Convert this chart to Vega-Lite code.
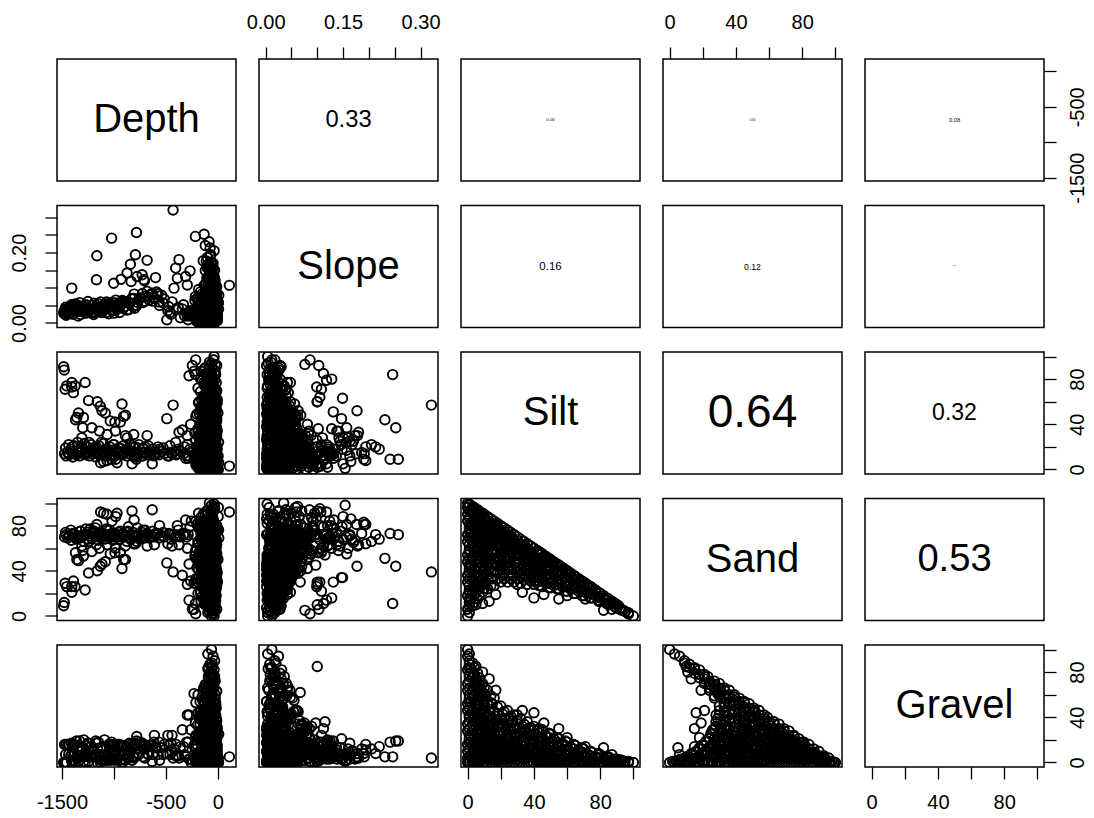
{
  "$schema": "https://vega.github.io/schema/vega-lite/v6.json",
  "background": "white",
  "padding": {"left": 8, "top": 11, "right": 5, "bottom": 5},
  "columns": 5,
  "spacing": {"row": 24.5, "column": 23},
  "bounds": "flush",
  "datasets": {
    "cors": [
      {"pair": "Depth~Slope", "r": 0.33},
      {"pair": "Depth~Silt", "r": 0.06},
      {"pair": "Depth~Sand", "r": 0.04},
      {"pair": "Depth~Gravel", "r": 0.08},
      {"pair": "Slope~Silt", "r": 0.16},
      {"pair": "Slope~Sand", "r": 0.12},
      {"pair": "Slope~Gravel", "r": 0.02},
      {"pair": "Silt~Sand", "r": 0.64},
      {"pair": "Silt~Gravel", "r": 0.32},
      {"pair": "Sand~Gravel", "r": 0.53}
    ],
    "samples": [
      {"Depth":-1484,"Slope":0.030,"Silt":91,"Sand":9,"Gravel":0},
      {"Depth":-1478,"Slope":0.026,"Silt":88,"Sand":12,"Gravel":0},
      {"Depth":-1470,"Slope":0.040,"Silt":71,"Sand":29,"Gravel":0},
      {"Depth":-1454,"Slope":0.035,"Silt":74,"Sand":26,"Gravel":0},
      {"Depth":-1374,"Slope":0.036,"Silt":74,"Sand":26,"Gravel":0},
      {"Depth":-1406,"Slope":0.099,"Silt":73,"Sand":26,"Gravel":1},
      {"Depth":-1405,"Slope":0.048,"Silt":77,"Sand":21,"Gravel":2},
      {"Depth":-1277,"Slope":0.042,"Silt":77,"Sand":23,"Gravel":0},
      {"Depth":-1390,"Slope":0.044,"Silt":68,"Sand":31,"Gravel":1},
      {"Depth":-1244,"Slope":0.033,"Silt":61,"Sand":38,"Gravel":1},
      {"Depth":-1160,"Slope":0.039,"Silt":60,"Sand":40,"Gravel":0},
      {"Depth":-1131,"Slope":0.047,"Silt":56,"Sand":44,"Gravel":0},
      {"Depth":-1115,"Slope":0.030,"Silt":52,"Sand":46,"Gravel":2},
      {"Depth":-1370,"Slope":0.054,"Silt":44,"Sand":56,"Gravel":0},
      {"Depth":-1357,"Slope":0.046,"Silt":46,"Sand":50,"Gravel":4},
      {"Depth":-1341,"Slope":0.050,"Silt":50,"Sand":49,"Gravel":1},
      {"Depth":-1293,"Slope":0.041,"Silt":46,"Sand":53,"Gravel":1},
      {"Depth":-1083,"Slope":0.044,"Silt":50,"Sand":48,"Gravel":2},
      {"Depth":-1035,"Slope":0.053,"Silt":43,"Sand":55,"Gravel":2},
      {"Depth":-990,"Slope":0.048,"Silt":42,"Sand":56,"Gravel":2},
      {"Depth":-922,"Slope":0.056,"Silt":58,"Sand":42,"Gravel":0},
      {"Depth":-906,"Slope":0.062,"Silt":47,"Sand":50,"Gravel":3},
      {"Depth":-938,"Slope":0.050,"Silt":42,"Sand":56,"Gravel":2},
      {"Depth":-889,"Slope":0.058,"Silt":48,"Sand":50,"Gravel":2},
      {"Depth":-490,"Slope":0.009,"Silt":45,"Sand":47,"Gravel":8},
      {"Depth":-430,"Slope":0.321,"Silt":57,"Sand":39,"Gravel":4},
      {"Depth":-1300,"Slope":0.035,"Silt":37,"Sand":58,"Gravel":5},
      {"Depth":-1309,"Slope":0.045,"Silt":28,"Sand":62,"Gravel":10},
      {"Depth":-1212,"Slope":0.030,"Silt":37,"Sand":57,"Gravel":6},
      {"Depth":-1140,"Slope":0.040,"Silt":34,"Sand":60,"Gravel":6},
      {"Depth":-1065,"Slope":0.055,"Silt":31,"Sand":63,"Gravel":6},
      {"Depth":-986,"Slope":0.050,"Silt":34,"Sand":60,"Gravel":6},
      {"Depth":-890,"Slope":0.060,"Silt":30,"Sand":62,"Gravel":8},
      {"Depth":-809,"Slope":0.070,"Silt":31,"Sand":64,"Gravel":5},
      {"Depth":-1240,"Slope":0.037,"Silt":24,"Sand":66,"Gravel":10},
      {"Depth":-1128,"Slope":0.060,"Silt":6,"Sand":92,"Gravel":2},
      {"Depth":-1099,"Slope":0.050,"Silt":7,"Sand":91,"Gravel":2},
      {"Depth":-1067,"Slope":0.045,"Silt":8,"Sand":90,"Gravel":2},
      {"Depth":-982,"Slope":0.065,"Silt":9,"Sand":88,"Gravel":3},
      {"Depth":-970,"Slope":0.040,"Silt":6,"Sand":91,"Gravel":3},
      {"Depth":-1018,"Slope":0.058,"Silt":12,"Sand":84,"Gravel":4},
      {"Depth":-825,"Slope":0.070,"Silt":5,"Sand":93,"Gravel":2},
      {"Depth":-805,"Slope":0.082,"Silt":11,"Sand":85,"Gravel":4},
      {"Depth":-631,"Slope":0.085,"Silt":5,"Sand":94,"Gravel":1},
      {"Depth":-1325,"Slope":0.040,"Silt":15,"Sand":75,"Gravel":10},
      {"Depth":-1272,"Slope":0.052,"Silt":14,"Sand":77,"Gravel":9},
      {"Depth":-1228,"Slope":0.036,"Silt":16,"Sand":77,"Gravel":7},
      {"Depth":-1180,"Slope":0.030,"Silt":17,"Sand":78,"Gravel":5},
      {"Depth":-1060,"Slope":0.045,"Silt":18,"Sand":76,"Gravel":6},
      {"Depth":-940,"Slope":0.055,"Silt":19,"Sand":75,"Gravel":6},
      {"Depth":-860,"Slope":0.038,"Silt":17,"Sand":79,"Gravel":4},
      {"Depth":-700,"Slope":0.062,"Silt":20,"Sand":76,"Gravel":4},
      {"Depth":-560,"Slope":0.050,"Silt":18,"Sand":80,"Gravel":2},
      {"Depth":-1400,"Slope":0.031,"Silt":20,"Sand":72,"Gravel":8},
      {"Depth":-1000,"Slope":0.028,"Silt":22,"Sand":70,"Gravel":8},
      {"Depth":-1120,"Slope":0.048,"Silt":24,"Sand":69,"Gravel":7},
      {"Depth":-1465,"Slope":0.045,"Silt":19,"Sand":74,"Gravel":7},
      {"Depth":-1435,"Slope":0.027,"Silt":22,"Sand":71,"Gravel":7},
      {"Depth":-1415,"Slope":0.038,"Silt":18,"Sand":76,"Gravel":6},
      {"Depth":-1385,"Slope":0.051,"Silt":21,"Sand":73,"Gravel":6},
      {"Depth":-1350,"Slope":0.033,"Silt":24,"Sand":70,"Gravel":6},
      {"Depth":-1320,"Slope":0.024,"Silt":19,"Sand":75,"Gravel":6},
      {"Depth":-1285,"Slope":0.047,"Silt":23,"Sand":72,"Gravel":5},
      {"Depth":-1255,"Slope":0.039,"Silt":20,"Sand":74,"Gravel":6},
      {"Depth":-1220,"Slope":0.029,"Silt":22,"Sand":73,"Gravel":5},
      {"Depth":-1190,"Slope":0.056,"Silt":19,"Sand":75,"Gravel":6},
      {"Depth":-1145,"Slope":0.034,"Silt":21,"Sand":72,"Gravel":7},
      {"Depth":-1100,"Slope":0.043,"Silt":23,"Sand":71,"Gravel":6},
      {"Depth":-1075,"Slope":0.030,"Silt":18,"Sand":77,"Gravel":5},
      {"Depth":-1040,"Slope":0.052,"Silt":20,"Sand":76,"Gravel":4},
      {"Depth":-1005,"Slope":0.036,"Silt":22,"Sand":72,"Gravel":6},
      {"Depth":-955,"Slope":0.048,"Silt":19,"Sand":74,"Gravel":7},
      {"Depth":-910,"Slope":0.041,"Silt":21,"Sand":73,"Gravel":6},
      {"Depth":-865,"Slope":0.059,"Silt":18,"Sand":75,"Gravel":7},
      {"Depth":-815,"Slope":0.046,"Silt":20,"Sand":74,"Gravel":6},
      {"Depth":-760,"Slope":0.066,"Silt":22,"Sand":71,"Gravel":7},
      {"Depth":-720,"Slope":0.058,"Silt":19,"Sand":76,"Gravel":5},
      {"Depth":-670,"Slope":0.074,"Silt":21,"Sand":72,"Gravel":7},
      {"Depth":-625,"Slope":0.062,"Silt":18,"Sand":75,"Gravel":7},
      {"Depth":-575,"Slope":0.083,"Silt":20,"Sand":73,"Gravel":7},
      {"Depth":-525,"Slope":0.057,"Silt":19,"Sand":74,"Gravel":7},
      {"Depth":-460,"Slope":0.030,"Silt":21,"Sand":72,"Gravel":7},
      {"Depth":-380,"Slope":0.044,"Silt":18,"Sand":76,"Gravel":6},
      {"Depth":-320,"Slope":0.021,"Silt":20,"Sand":73,"Gravel":7},
      {"Depth":-1475,"Slope":0.034,"Silt":14,"Sand":70,"Gravel":16},
      {"Depth":-1460,"Slope":0.022,"Silt":12,"Sand":72,"Gravel":16},
      {"Depth":-1445,"Slope":0.041,"Silt":15,"Sand":69,"Gravel":16},
      {"Depth":-1430,"Slope":0.030,"Silt":13,"Sand":71,"Gravel":16},
      {"Depth":-1410,"Slope":0.052,"Silt":16,"Sand":67,"Gravel":17},
      {"Depth":-1395,"Slope":0.025,"Silt":11,"Sand":73,"Gravel":16},
      {"Depth":-1380,"Slope":0.038,"Silt":14,"Sand":70,"Gravel":16},
      {"Depth":-1360,"Slope":0.047,"Silt":13,"Sand":68,"Gravel":19},
      {"Depth":-1345,"Slope":0.020,"Silt":15,"Sand":71,"Gravel":14},
      {"Depth":-1330,"Slope":0.058,"Silt":12,"Sand":69,"Gravel":19},
      {"Depth":-1310,"Slope":0.033,"Silt":16,"Sand":70,"Gravel":14},
      {"Depth":-1290,"Slope":0.044,"Silt":14,"Sand":66,"Gravel":20},
      {"Depth":-1270,"Slope":0.028,"Silt":13,"Sand":72,"Gravel":15},
      {"Depth":-1250,"Slope":0.061,"Silt":15,"Sand":68,"Gravel":17},
      {"Depth":-1235,"Slope":0.036,"Silt":12,"Sand":71,"Gravel":17},
      {"Depth":-1215,"Slope":0.050,"Silt":17,"Sand":69,"Gravel":14},
      {"Depth":-1195,"Slope":0.024,"Silt":14,"Sand":73,"Gravel":13},
      {"Depth":-1175,"Slope":0.042,"Silt":11,"Sand":70,"Gravel":19},
      {"Depth":-1150,"Slope":0.055,"Silt":15,"Sand":67,"Gravel":18},
      {"Depth":-1130,"Slope":0.031,"Silt":13,"Sand":74,"Gravel":13},
      {"Depth":-1110,"Slope":0.047,"Silt":16,"Sand":70,"Gravel":14},
      {"Depth":-1090,"Slope":0.038,"Silt":12,"Sand":68,"Gravel":20},
      {"Depth":-1070,"Slope":0.060,"Silt":14,"Sand":72,"Gravel":14},
      {"Depth":-1050,"Slope":0.026,"Silt":15,"Sand":69,"Gravel":16},
      {"Depth":-1030,"Slope":0.049,"Silt":13,"Sand":71,"Gravel":16},
      {"Depth":-1010,"Slope":0.035,"Silt":17,"Sand":67,"Gravel":16},
      {"Depth":-990,"Slope":0.057,"Silt":12,"Sand":73,"Gravel":15},
      {"Depth":-965,"Slope":0.043,"Silt":14,"Sand":70,"Gravel":16},
      {"Depth":-945,"Slope":0.030,"Silt":16,"Sand":68,"Gravel":16},
      {"Depth":-920,"Slope":0.064,"Silt":13,"Sand":72,"Gravel":15},
      {"Depth":-900,"Slope":0.046,"Silt":15,"Sand":70,"Gravel":15},
      {"Depth":-875,"Slope":0.037,"Silt":12,"Sand":74,"Gravel":14},
      {"Depth":-850,"Slope":0.055,"Silt":14,"Sand":69,"Gravel":17},
      {"Depth":-825,"Slope":0.068,"Silt":16,"Sand":71,"Gravel":13},
      {"Depth":-800,"Slope":0.042,"Silt":13,"Sand":70,"Gravel":17},
      {"Depth":-775,"Slope":0.059,"Silt":15,"Sand":72,"Gravel":13},
      {"Depth":-750,"Slope":0.071,"Silt":14,"Sand":68,"Gravel":18},
      {"Depth":-725,"Slope":0.084,"Silt":12,"Sand":71,"Gravel":17},
      {"Depth":-700,"Slope":0.076,"Silt":15,"Sand":70,"Gravel":15},
      {"Depth":-680,"Slope":0.090,"Silt":13,"Sand":73,"Gravel":14},
      {"Depth":-660,"Slope":0.065,"Silt":16,"Sand":69,"Gravel":15},
      {"Depth":-640,"Slope":0.081,"Silt":14,"Sand":71,"Gravel":15},
      {"Depth":-615,"Slope":0.072,"Silt":12,"Sand":70,"Gravel":18},
      {"Depth":-590,"Slope":0.088,"Silt":15,"Sand":72,"Gravel":13},
      {"Depth":-565,"Slope":0.060,"Silt":13,"Sand":69,"Gravel":18},
      {"Depth":-540,"Slope":0.079,"Silt":16,"Sand":71,"Gravel":13},
      {"Depth":-515,"Slope":0.068,"Silt":14,"Sand":70,"Gravel":16},
      {"Depth":-470,"Slope":0.046,"Silt":12,"Sand":73,"Gravel":15},
      {"Depth":-450,"Slope":0.025,"Silt":15,"Sand":68,"Gravel":17},
      {"Depth":-400,"Slope":0.038,"Silt":13,"Sand":71,"Gravel":16},
      {"Depth":-360,"Slope":0.015,"Silt":16,"Sand":70,"Gravel":14},
      {"Depth":-330,"Slope":0.052,"Silt":14,"Sand":72,"Gravel":14},
      {"Depth":-300,"Slope":0.028,"Silt":12,"Sand":70,"Gravel":18},
      {"Depth":-285,"Slope":0.009,"Silt":10,"Sand":72,"Gravel":18},
      {"Depth":-780,"Slope":0.050,"Silt":11,"Sand":66,"Gravel":23},
      {"Depth":-610,"Slope":0.070,"Silt":13,"Sand":63,"Gravel":24},
      {"Depth":-480,"Slope":0.035,"Silt":12,"Sand":64,"Gravel":24},
      {"Depth":-440,"Slope":0.060,"Silt":14,"Sand":62,"Gravel":24},
      {"Depth":-1164,"Slope":0.191,"Silt":14,"Sand":81,"Gravel":5},
      {"Depth":-1168,"Slope":0.123,"Silt":20,"Sand":63,"Gravel":17},
      {"Depth":-1002,"Slope":0.113,"Silt":12,"Sand":72,"Gravel":16},
      {"Depth":-1022,"Slope":0.241,"Silt":9,"Sand":73,"Gravel":18},
      {"Depth":-931,"Slope":0.124,"Silt":15,"Sand":70,"Gravel":15},
      {"Depth":-873,"Slope":0.142,"Silt":28,"Sand":66,"Gravel":6},
      {"Depth":-834,"Slope":0.118,"Silt":16,"Sand":68,"Gravel":16},
      {"Depth":-783,"Slope":0.257,"Silt":9,"Sand":72,"Gravel":19},
      {"Depth":-793,"Slope":0.194,"Silt":20,"Sand":64,"Gravel":16},
      {"Depth":-841,"Slope":0.167,"Silt":22,"Sand":68,"Gravel":10},
      {"Depth":-777,"Slope":0.132,"Silt":14,"Sand":78,"Gravel":8},
      {"Depth":-728,"Slope":0.137,"Silt":12,"Sand":74,"Gravel":14},
      {"Depth":-712,"Slope":0.123,"Silt":18,"Sand":70,"Gravel":12},
      {"Depth":-706,"Slope":0.120,"Silt":15,"Sand":69,"Gravel":16},
      {"Depth":-680,"Slope":0.178,"Silt":30,"Sand":62,"Gravel":8},
      {"Depth":-599,"Slope":0.129,"Silt":13,"Sand":73,"Gravel":14},
      {"Depth":-373,"Slope":0.180,"Silt":33,"Sand":63,"Gravel":4},
      {"Depth":-405,"Slope":0.156,"Silt":24,"Sand":70,"Gravel":6},
      {"Depth":-421,"Slope":0.099,"Silt":16,"Sand":72,"Gravel":12},
      {"Depth":-389,"Slope":0.127,"Silt":14,"Sand":80,"Gravel":6},
      {"Depth":-309,"Slope":0.132,"Silt":10,"Sand":85,"Gravel":5},
      {"Depth":-293,"Slope":0.108,"Silt":22,"Sand":60,"Gravel":18},
      {"Depth":-267,"Slope":0.148,"Silt":18,"Sand":79,"Gravel":3},
      {"Depth":-215,"Slope":0.246,"Silt":84,"Sand":11,"Gravel":5},
      {"Depth":-131,"Slope":0.252,"Silt":37,"Sand":44,"Gravel":19},
      {"Depth":-83,"Slope":0.231,"Silt":44,"Sand":51,"Gravel":5},
      {"Depth":-73,"Slope":0.213,"Silt":20,"Sand":72,"Gravel":8},
      {"Depth":-67,"Slope":0.194,"Silt":8,"Sand":81,"Gravel":11},
      {"Depth":-276,"Slope":0.022,"Silt":83,"Sand":14,"Gravel":3},
      {"Depth":-212,"Slope":0.012,"Silt":97,"Sand":2,"Gravel":1},
      {"Depth":-228,"Slope":0.018,"Silt":87,"Sand":6,"Gravel":7},
      {"Depth":-260,"Slope":0.035,"Silt":40,"Sand":31,"Gravel":29},
      {"Depth":-293,"Slope":0.020,"Silt":30,"Sand":28,"Gravel":42},
      {"Depth":-244,"Slope":0.028,"Silt":92,"Sand":6,"Gravel":2},
      {"Depth":-341,"Slope":0.040,"Silt":35,"Sand":36,"Gravel":29},
      {"Depth":-276,"Slope":0.032,"Silt":12,"Sand":46,"Gravel":42},
      {"Depth":-228,"Slope":0.026,"Silt":10,"Sand":29,"Gravel":61},
      {"Depth":112,"Slope":0.107,"Silt":3,"Sand":92,"Gravel":5},
      {"Depth":-60,"Slope":0.012,"Silt":0,"Sand":0,"Gravel":100},
      {"Depth":-45,"Slope":0.025,"Silt":0,"Sand":6,"Gravel":94},
      {"Depth":-75,"Slope":0.008,"Silt":1,"Sand":12,"Gravel":87},
      {"Depth":-35,"Slope":0.031,"Silt":0,"Sand":18,"Gravel":82},
      {"Depth":-90,"Slope":0.018,"Silt":1,"Sand":23,"Gravel":76},
      {"Depth":-50,"Slope":0.040,"Silt":0,"Sand":30,"Gravel":70},
      {"Depth":-110,"Slope":0.006,"Silt":0,"Sand":36,"Gravel":64},
      {"Depth":-25,"Slope":0.052,"Silt":1,"Sand":42,"Gravel":57},
      {"Depth":-130,"Slope":0.022,"Silt":0,"Sand":48,"Gravel":52},
      {"Depth":-70,"Slope":0.061,"Silt":0,"Sand":54,"Gravel":46},
      {"Depth":-160,"Slope":0.010,"Silt":1,"Sand":59,"Gravel":40},
      {"Depth":-15,"Slope":0.045,"Silt":0,"Sand":66,"Gravel":34},
      {"Depth":-100,"Slope":0.078,"Silt":0,"Sand":72,"Gravel":28},
      {"Depth":-185,"Slope":0.030,"Silt":1,"Sand":78,"Gravel":21},
      {"Depth":-40,"Slope":0.092,"Silt":0,"Sand":84,"Gravel":16},
      {"Depth":-140,"Slope":0.015,"Silt":0,"Sand":90,"Gravel":10},
      {"Depth":6,"Slope":0.058,"Silt":0,"Sand":96,"Gravel":4},
      {"Depth":-80,"Slope":0.035,"Silt":0,"Sand":100,"Gravel":0},
      {"Depth":-55,"Slope":0.020,"Silt":3,"Sand":9,"Gravel":88},
      {"Depth":-95,"Slope":0.005,"Silt":2,"Sand":15,"Gravel":83},
      {"Depth":-30,"Slope":0.036,"Silt":3,"Sand":21,"Gravel":76},
      {"Depth":-120,"Slope":0.014,"Silt":4,"Sand":27,"Gravel":69},
      {"Depth":-65,"Slope":0.047,"Silt":3,"Sand":33,"Gravel":64},
      {"Depth":-150,"Slope":0.027,"Silt":3,"Sand":39,"Gravel":58},
      {"Depth":-20,"Slope":0.009,"Silt":2,"Sand":45,"Gravel":53},
      {"Depth":-85,"Slope":0.058,"Silt":3,"Sand":51,"Gravel":46},
      {"Depth":-175,"Slope":0.038,"Silt":4,"Sand":57,"Gravel":39},
      {"Depth":-45,"Slope":0.070,"Silt":3,"Sand":63,"Gravel":34},
      {"Depth":-125,"Slope":0.017,"Silt":3,"Sand":69,"Gravel":28},
      {"Depth":-10,"Slope":0.084,"Silt":2,"Sand":75,"Gravel":23},
      {"Depth":-200,"Slope":0.042,"Silt":3,"Sand":81,"Gravel":16},
      {"Depth":-60,"Slope":0.098,"Silt":4,"Sand":87,"Gravel":9},
      {"Depth":-105,"Slope":0.025,"Silt":3,"Sand":93,"Gravel":4},
      {"Depth":-35,"Slope":0.062,"Silt":3,"Sand":97,"Gravel":0},
      {"Depth":-80,"Slope":0.028,"Silt":6,"Sand":15,"Gravel":79},
      {"Depth":-40,"Slope":0.011,"Silt":5,"Sand":21,"Gravel":74},
      {"Depth":-115,"Slope":0.043,"Silt":6,"Sand":27,"Gravel":67},
      {"Depth":-25,"Slope":0.019,"Silt":7,"Sand":33,"Gravel":60},
      {"Depth":-145,"Slope":0.055,"Silt":6,"Sand":39,"Gravel":55},
      {"Depth":-70,"Slope":0.033,"Silt":6,"Sand":45,"Gravel":49},
      {"Depth":-190,"Slope":0.004,"Silt":5,"Sand":51,"Gravel":44},
      {"Depth":-50,"Slope":0.066,"Silt":6,"Sand":57,"Gravel":37},
      {"Depth":-100,"Slope":0.024,"Silt":7,"Sand":63,"Gravel":30},
      {"Depth":10,"Slope":0.079,"Silt":6,"Sand":69,"Gravel":25},
      {"Depth":-135,"Slope":0.050,"Silt":6,"Sand":75,"Gravel":19},
      {"Depth":-60,"Slope":0.013,"Silt":5,"Sand":81,"Gravel":14},
      {"Depth":-165,"Slope":0.089,"Silt":6,"Sand":87,"Gravel":7},
      {"Depth":-30,"Slope":0.039,"Silt":6,"Sand":94,"Gravel":0},
      {"Depth":-90,"Slope":0.034,"Silt":9,"Sand":21,"Gravel":70},
      {"Depth":-50,"Slope":0.016,"Silt":8,"Sand":27,"Gravel":65},
      {"Depth":-125,"Slope":0.048,"Silt":9,"Sand":33,"Gravel":58},
      {"Depth":-20,"Slope":0.007,"Silt":10,"Sand":39,"Gravel":51},
      {"Depth":-160,"Slope":0.060,"Silt":9,"Sand":45,"Gravel":46},
      {"Depth":-75,"Slope":0.029,"Silt":9,"Sand":51,"Gravel":40},
      {"Depth":-215,"Slope":0.075,"Silt":8,"Sand":57,"Gravel":35},
      {"Depth":-40,"Slope":0.012,"Silt":9,"Sand":63,"Gravel":28},
      {"Depth":-110,"Slope":0.086,"Silt":10,"Sand":69,"Gravel":21},
      {"Depth":-10,"Slope":0.044,"Silt":9,"Sand":75,"Gravel":16},
      {"Depth":-145,"Slope":0.068,"Silt":9,"Sand":81,"Gravel":10},
      {"Depth":-65,"Slope":0.021,"Silt":8,"Sand":87,"Gravel":5},
      {"Depth":-185,"Slope":0.095,"Silt":9,"Sand":91,"Gravel":0},
      {"Depth":-70,"Slope":0.026,"Silt":12,"Sand":24,"Gravel":64},
      {"Depth":-105,"Slope":0.041,"Silt":11,"Sand":30,"Gravel":59},
      {"Depth":-35,"Slope":0.010,"Silt":12,"Sand":36,"Gravel":52},
      {"Depth":-140,"Slope":0.063,"Silt":13,"Sand":42,"Gravel":45},
      {"Depth":-55,"Slope":0.036,"Silt":12,"Sand":48,"Gravel":40},
      {"Depth":-170,"Slope":0.018,"Silt":12,"Sand":54,"Gravel":34},
      {"Depth":-15,"Slope":0.080,"Silt":11,"Sand":60,"Gravel":29},
      {"Depth":-95,"Slope":0.052,"Silt":12,"Sand":66,"Gravel":22},
      {"Depth":-230,"Slope":0.031,"Silt":13,"Sand":72,"Gravel":15},
      {"Depth":-45,"Slope":0.091,"Silt":12,"Sand":78,"Gravel":10},
      {"Depth":-120,"Slope":0.007,"Silt":12,"Sand":84,"Gravel":4},
      {"Depth":4,"Slope":0.057,"Silt":12,"Sand":88,"Gravel":0},
      {"Depth":-85,"Slope":0.037,"Silt":16,"Sand":27,"Gravel":57},
      {"Depth":-30,"Slope":0.014,"Silt":15,"Sand":33,"Gravel":52},
      {"Depth":-130,"Slope":0.054,"Silt":16,"Sand":39,"Gravel":45},
      {"Depth":-60,"Slope":0.025,"Silt":17,"Sand":45,"Gravel":38},
      {"Depth":-195,"Slope":0.071,"Silt":16,"Sand":51,"Gravel":33},
      {"Depth":-20,"Slope":0.046,"Silt":16,"Sand":57,"Gravel":27},
      {"Depth":-115,"Slope":0.009,"Silt":15,"Sand":63,"Gravel":22},
      {"Depth":-75,"Slope":0.083,"Silt":16,"Sand":69,"Gravel":15},
      {"Depth":-150,"Slope":0.033,"Silt":17,"Sand":75,"Gravel":8},
      {"Depth":-40,"Slope":0.062,"Silt":16,"Sand":81,"Gravel":3},
      {"Depth":-255,"Slope":0.020,"Silt":16,"Sand":84,"Gravel":0},
      {"Depth":-100,"Slope":0.030,"Silt":20,"Sand":30,"Gravel":50},
      {"Depth":-45,"Slope":0.050,"Silt":21,"Sand":36,"Gravel":43},
      {"Depth":-160,"Slope":0.012,"Silt":20,"Sand":42,"Gravel":38},
      {"Depth":-25,"Slope":0.068,"Silt":19,"Sand":48,"Gravel":33},
      {"Depth":-80,"Slope":0.041,"Silt":20,"Sand":54,"Gravel":26},
      {"Depth":-205,"Slope":0.006,"Silt":20,"Sand":60,"Gravel":20},
      {"Depth":-55,"Slope":0.077,"Silt":21,"Sand":66,"Gravel":13},
      {"Depth":-125,"Slope":0.022,"Silt":20,"Sand":72,"Gravel":8},
      {"Depth":-10,"Slope":0.058,"Silt":20,"Sand":80,"Gravel":0},
      {"Depth":-65,"Slope":0.019,"Silt":24,"Sand":30,"Gravel":46},
      {"Depth":-140,"Slope":0.044,"Silt":25,"Sand":36,"Gravel":39},
      {"Depth":-35,"Slope":0.063,"Silt":24,"Sand":42,"Gravel":34},
      {"Depth":-110,"Slope":0.008,"Silt":23,"Sand":48,"Gravel":29},
      {"Depth":-175,"Slope":0.052,"Silt":24,"Sand":54,"Gravel":22},
      {"Depth":-50,"Slope":0.029,"Silt":24,"Sand":60,"Gravel":16},
      {"Depth":-90,"Slope":0.072,"Silt":25,"Sand":66,"Gravel":9},
      {"Depth":8,"Slope":0.039,"Silt":24,"Sand":76,"Gravel":0},
      {"Depth":-75,"Slope":0.047,"Silt":28,"Sand":30,"Gravel":42},
      {"Depth":-120,"Slope":0.015,"Silt":27,"Sand":36,"Gravel":37},
      {"Depth":-30,"Slope":0.034,"Silt":28,"Sand":42,"Gravel":30},
      {"Depth":-185,"Slope":0.060,"Silt":29,"Sand":48,"Gravel":23},
      {"Depth":-60,"Slope":0.003,"Silt":28,"Sand":54,"Gravel":18},
      {"Depth":-145,"Slope":0.048,"Silt":28,"Sand":60,"Gravel":12},
      {"Depth":-15,"Slope":0.069,"Silt":27,"Sand":66,"Gravel":7},
      {"Depth":-95,"Slope":0.026,"Silt":28,"Sand":72,"Gravel":0},
      {"Depth":-55,"Slope":0.023,"Silt":32,"Sand":29,"Gravel":39},
      {"Depth":-130,"Slope":0.051,"Silt":33,"Sand":35,"Gravel":32},
      {"Depth":-20,"Slope":0.011,"Silt":32,"Sand":41,"Gravel":27},
      {"Depth":-100,"Slope":0.040,"Silt":31,"Sand":47,"Gravel":22},
      {"Depth":-220,"Slope":0.064,"Silt":32,"Sand":53,"Gravel":15},
      {"Depth":-45,"Slope":0.031,"Silt":32,"Sand":59,"Gravel":9},
      {"Depth":-165,"Slope":0.016,"Silt":32,"Sand":68,"Gravel":0},
      {"Depth":-85,"Slope":0.042,"Silt":36,"Sand":28,"Gravel":36},
      {"Depth":-40,"Slope":0.018,"Silt":37,"Sand":34,"Gravel":29},
      {"Depth":-150,"Slope":0.056,"Silt":36,"Sand":40,"Gravel":24},
      {"Depth":-70,"Slope":0.009,"Silt":35,"Sand":46,"Gravel":19},
      {"Depth":-10,"Slope":0.047,"Silt":36,"Sand":52,"Gravel":12},
      {"Depth":-115,"Slope":0.027,"Silt":36,"Sand":58,"Gravel":6},
      {"Depth":-190,"Slope":0.061,"Silt":36,"Sand":64,"Gravel":0},
      {"Depth":-50,"Slope":0.014,"Silt":40,"Sand":28,"Gravel":32},
      {"Depth":-135,"Slope":0.039,"Silt":41,"Sand":34,"Gravel":25},
      {"Depth":-25,"Slope":0.058,"Silt":40,"Sand":40,"Gravel":20},
      {"Depth":-95,"Slope":0.024,"Silt":39,"Sand":46,"Gravel":15},
      {"Depth":-170,"Slope":0.005,"Silt":40,"Sand":52,"Gravel":8},
      {"Depth":-60,"Slope":0.045,"Silt":40,"Sand":60,"Gravel":0},
      {"Depth":-110,"Slope":0.033,"Silt":45,"Sand":26,"Gravel":29},
      {"Depth":-35,"Slope":0.011,"Silt":45,"Sand":32,"Gravel":23},
      {"Depth":-80,"Slope":0.052,"Silt":44,"Sand":38,"Gravel":18},
      {"Depth":-155,"Slope":0.021,"Silt":45,"Sand":44,"Gravel":11},
      {"Depth":-15,"Slope":0.040,"Silt":46,"Sand":50,"Gravel":4},
      {"Depth":-125,"Slope":0.006,"Silt":45,"Sand":55,"Gravel":0},
      {"Depth":-70,"Slope":0.028,"Silt":50,"Sand":25,"Gravel":25},
      {"Depth":-140,"Slope":0.046,"Silt":51,"Sand":31,"Gravel":18},
      {"Depth":-45,"Slope":0.013,"Silt":50,"Sand":37,"Gravel":13},
      {"Depth":-200,"Slope":0.036,"Silt":49,"Sand":43,"Gravel":8},
      {"Depth":2,"Slope":0.055,"Silt":50,"Sand":50,"Gravel":0},
      {"Depth":-90,"Slope":0.017,"Silt":55,"Sand":24,"Gravel":21},
      {"Depth":-30,"Slope":0.042,"Silt":55,"Sand":30,"Gravel":15},
      {"Depth":-160,"Slope":0.008,"Silt":56,"Sand":36,"Gravel":8},
      {"Depth":-65,"Slope":0.030,"Silt":55,"Sand":45,"Gravel":0},
      {"Depth":-115,"Slope":0.035,"Silt":60,"Sand":22,"Gravel":18},
      {"Depth":-50,"Slope":0.012,"Silt":61,"Sand":28,"Gravel":11},
      {"Depth":-180,"Slope":0.048,"Silt":60,"Sand":34,"Gravel":6},
      {"Depth":-20,"Slope":0.024,"Silt":60,"Sand":40,"Gravel":0},
      {"Depth":-85,"Slope":0.026,"Silt":65,"Sand":20,"Gravel":15},
      {"Depth":-140,"Slope":0.040,"Silt":65,"Sand":26,"Gravel":9},
      {"Depth":-40,"Slope":0.010,"Silt":65,"Sand":35,"Gravel":0},
      {"Depth":-60,"Slope":0.032,"Silt":70,"Sand":18,"Gravel":12},
      {"Depth":-105,"Slope":0.015,"Silt":71,"Sand":24,"Gravel":5},
      {"Depth":-10,"Slope":0.038,"Silt":70,"Sand":30,"Gravel":0},
      {"Depth":-130,"Slope":0.022,"Silt":75,"Sand":16,"Gravel":9},
      {"Depth":-45,"Slope":0.009,"Silt":75,"Sand":25,"Gravel":0},
      {"Depth":-75,"Slope":0.028,"Silt":80,"Sand":13,"Gravel":7},
      {"Depth":-165,"Slope":0.014,"Silt":80,"Sand":20,"Gravel":0},
      {"Depth":-30,"Slope":0.019,"Silt":85,"Sand":10,"Gravel":5},
      {"Depth":-95,"Slope":0.007,"Silt":85,"Sand":15,"Gravel":0},
      {"Depth":-55,"Slope":0.016,"Silt":90,"Sand":7,"Gravel":3},
      {"Depth":-120,"Slope":0.025,"Silt":90,"Sand":10,"Gravel":0},
      {"Depth":-80,"Slope":0.010,"Silt":95,"Sand":4,"Gravel":1},
      {"Depth":-35,"Slope":0.004,"Silt":100,"Sand":0,"Gravel":0},
      {"Depth":-95,"Slope":0.004,"Silt":1,"Sand":3,"Gravel":96},
      {"Depth":-30,"Slope":0.018,"Silt":1,"Sand":9,"Gravel":90},
      {"Depth":-60,"Slope":0.012,"Silt":1,"Sand":15,"Gravel":84},
      {"Depth":-45,"Slope":0.009,"Silt":1,"Sand":21,"Gravel":78},
      {"Depth":-25,"Slope":0.020,"Silt":1,"Sand":27,"Gravel":72},
      {"Depth":-115,"Slope":0.030,"Silt":1,"Sand":33,"Gravel":66},
      {"Depth":-75,"Slope":0.013,"Silt":1,"Sand":39,"Gravel":60},
      {"Depth":-170,"Slope":0.002,"Silt":1,"Sand":45,"Gravel":54},
      {"Depth":-45,"Slope":0.028,"Silt":1,"Sand":51,"Gravel":48},
      {"Depth":-20,"Slope":0.016,"Silt":1,"Sand":57,"Gravel":42},
      {"Depth":-125,"Slope":0.036,"Silt":1,"Sand":63,"Gravel":36},
      {"Depth":-85,"Slope":0.007,"Silt":1,"Sand":69,"Gravel":30},
      {"Depth":-5,"Slope":0.021,"Silt":1,"Sand":75,"Gravel":24},
      {"Depth":-155,"Slope":0.045,"Silt":1,"Sand":81,"Gravel":18},
      {"Depth":-50,"Slope":0.011,"Silt":1,"Sand":87,"Gravel":12},
      {"Depth":-105,"Slope":0.026,"Silt":1,"Sand":93,"Gravel":6},
      {"Depth":-35,"Slope":0.003,"Silt":1,"Sand":99,"Gravel":0},
      {"Depth":-90,"Slope":0.010,"Silt":4,"Sand":12,"Gravel":84},
      {"Depth":-70,"Slope":0.019,"Silt":4,"Sand":18,"Gravel":78},
      {"Depth":-40,"Slope":0.008,"Silt":4,"Sand":24,"Gravel":72},
      {"Depth":-135,"Slope":0.004,"Silt":4,"Sand":30,"Gravel":66},
      {"Depth":-55,"Slope":0.018,"Silt":4,"Sand":36,"Gravel":60},
      {"Depth":-100,"Slope":0.031,"Silt":4,"Sand":42,"Gravel":54},
      {"Depth":-25,"Slope":0.009,"Silt":4,"Sand":48,"Gravel":48},
      {"Depth":-160,"Slope":0.024,"Silt":4,"Sand":54,"Gravel":42},
      {"Depth":-80,"Slope":0.040,"Silt":4,"Sand":60,"Gravel":36},
      {"Depth":-40,"Slope":0.013,"Silt":4,"Sand":66,"Gravel":30},
      {"Depth":-120,"Slope":0.002,"Silt":4,"Sand":72,"Gravel":24},
      {"Depth":-65,"Slope":0.028,"Silt":4,"Sand":78,"Gravel":18},
      {"Depth":-210,"Slope":0.016,"Silt":4,"Sand":84,"Gravel":12},
      {"Depth":-95,"Slope":0.036,"Silt":4,"Sand":90,"Gravel":6},
      {"Depth":-30,"Slope":0.007,"Silt":4,"Sand":96,"Gravel":0},
      {"Depth":-80,"Slope":0.015,"Silt":7,"Sand":18,"Gravel":75},
      {"Depth":-60,"Slope":0.021,"Silt":7,"Sand":24,"Gravel":69},
      {"Depth":-10,"Slope":0.032,"Silt":7,"Sand":30,"Gravel":63},
      {"Depth":-115,"Slope":0.011,"Silt":7,"Sand":36,"Gravel":57},
      {"Depth":-75,"Slope":0.026,"Silt":7,"Sand":42,"Gravel":51},
      {"Depth":-170,"Slope":0.003,"Silt":7,"Sand":48,"Gravel":45},
      {"Depth":-45,"Slope":0.033,"Silt":7,"Sand":54,"Gravel":39},
      {"Depth":-20,"Slope":0.019,"Silt":7,"Sand":60,"Gravel":33},
      {"Depth":-125,"Slope":0.008,"Silt":7,"Sand":66,"Gravel":27},
      {"Depth":-85,"Slope":0.004,"Silt":7,"Sand":72,"Gravel":21},
      {"Depth":-5,"Slope":0.018,"Silt":7,"Sand":78,"Gravel":15},
      {"Depth":-155,"Slope":0.031,"Silt":7,"Sand":84,"Gravel":9},
      {"Depth":-50,"Slope":0.009,"Silt":7,"Sand":90,"Gravel":3},
      {"Depth":-105,"Slope":0.024,"Silt":7,"Sand":93,"Gravel":0},
      {"Depth":-35,"Slope":0.030,"Silt":10,"Sand":24,"Gravel":66},
      {"Depth":-190,"Slope":0.013,"Silt":10,"Sand":30,"Gravel":60},
      {"Depth":-70,"Slope":0.002,"Silt":10,"Sand":36,"Gravel":54},
      {"Depth":-15,"Slope":0.028,"Silt":10,"Sand":42,"Gravel":48},
      {"Depth":-135,"Slope":0.016,"Silt":10,"Sand":48,"Gravel":42},
      {"Depth":-55,"Slope":0.036,"Silt":10,"Sand":54,"Gravel":36},
      {"Depth":-100,"Slope":0.007,"Silt":10,"Sand":60,"Gravel":30},
      {"Depth":-25,"Slope":0.021,"Silt":10,"Sand":66,"Gravel":24},
      {"Depth":-160,"Slope":0.045,"Silt":10,"Sand":72,"Gravel":18},
      {"Depth":-80,"Slope":0.011,"Silt":10,"Sand":78,"Gravel":12},
      {"Depth":-40,"Slope":0.026,"Silt":10,"Sand":84,"Gravel":6},
      {"Depth":-120,"Slope":0.003,"Silt":10,"Sand":90,"Gravel":0},
      {"Depth":-65,"Slope":0.033,"Silt":14,"Sand":27,"Gravel":59},
      {"Depth":-210,"Slope":0.019,"Silt":14,"Sand":33,"Gravel":53},
      {"Depth":-95,"Slope":0.008,"Silt":14,"Sand":39,"Gravel":47},
      {"Depth":-30,"Slope":0.004,"Silt":14,"Sand":45,"Gravel":41},
      {"Depth":-140,"Slope":0.018,"Silt":14,"Sand":51,"Gravel":35},
      {"Depth":-60,"Slope":0.031,"Silt":14,"Sand":57,"Gravel":29},
      {"Depth":-10,"Slope":0.009,"Silt":14,"Sand":63,"Gravel":23},
      {"Depth":-115,"Slope":0.024,"Silt":14,"Sand":69,"Gravel":17},
      {"Depth":-75,"Slope":0.040,"Silt":14,"Sand":75,"Gravel":11},
      {"Depth":-170,"Slope":0.013,"Silt":14,"Sand":81,"Gravel":5},
      {"Depth":-45,"Slope":0.002,"Silt":14,"Sand":86,"Gravel":0},
      {"Depth":-20,"Slope":0.028,"Silt":18,"Sand":33,"Gravel":49},
      {"Depth":-125,"Slope":0.016,"Silt":18,"Sand":39,"Gravel":43},
      {"Depth":-85,"Slope":0.036,"Silt":18,"Sand":45,"Gravel":37},
      {"Depth":-5,"Slope":0.007,"Silt":18,"Sand":51,"Gravel":31},
      {"Depth":-155,"Slope":0.021,"Silt":18,"Sand":57,"Gravel":25},
      {"Depth":-50,"Slope":0.045,"Silt":18,"Sand":63,"Gravel":19},
      {"Depth":-105,"Slope":0.011,"Silt":18,"Sand":69,"Gravel":13},
      {"Depth":-35,"Slope":0.026,"Silt":18,"Sand":75,"Gravel":7},
      {"Depth":-190,"Slope":0.003,"Silt":18,"Sand":82,"Gravel":0},
      {"Depth":-70,"Slope":0.033,"Silt":22,"Sand":33,"Gravel":45},
      {"Depth":-15,"Slope":0.019,"Silt":22,"Sand":39,"Gravel":39},
      {"Depth":-135,"Slope":0.008,"Silt":22,"Sand":45,"Gravel":33},
      {"Depth":-55,"Slope":0.004,"Silt":22,"Sand":51,"Gravel":27},
      {"Depth":-100,"Slope":0.018,"Silt":22,"Sand":57,"Gravel":21},
      {"Depth":-25,"Slope":0.031,"Silt":22,"Sand":63,"Gravel":15},
      {"Depth":-160,"Slope":0.009,"Silt":22,"Sand":69,"Gravel":9},
      {"Depth":-80,"Slope":0.024,"Silt":22,"Sand":78,"Gravel":0},
      {"Depth":-40,"Slope":0.040,"Silt":26,"Sand":33,"Gravel":41},
      {"Depth":-120,"Slope":0.013,"Silt":26,"Sand":39,"Gravel":35},
      {"Depth":-65,"Slope":0.002,"Silt":26,"Sand":45,"Gravel":29},
      {"Depth":-210,"Slope":0.028,"Silt":26,"Sand":51,"Gravel":23},
      {"Depth":-95,"Slope":0.016,"Silt":26,"Sand":57,"Gravel":17},
      {"Depth":-30,"Slope":0.036,"Silt":26,"Sand":63,"Gravel":11},
      {"Depth":-140,"Slope":0.007,"Silt":26,"Sand":69,"Gravel":5},
      {"Depth":-60,"Slope":0.021,"Silt":26,"Sand":74,"Gravel":0},
      {"Depth":-10,"Slope":0.038,"Silt":30,"Sand":33,"Gravel":37},
      {"Depth":-115,"Slope":0.011,"Silt":30,"Sand":39,"Gravel":31},
      {"Depth":-75,"Slope":0.026,"Silt":30,"Sand":45,"Gravel":25},
      {"Depth":-170,"Slope":0.003,"Silt":30,"Sand":51,"Gravel":19},
      {"Depth":-45,"Slope":0.033,"Silt":30,"Sand":57,"Gravel":13},
      {"Depth":-20,"Slope":0.019,"Silt":30,"Sand":63,"Gravel":7},
      {"Depth":-125,"Slope":0.008,"Silt":30,"Sand":70,"Gravel":0},
      {"Depth":-85,"Slope":0.004,"Silt":34,"Sand":32,"Gravel":34},
      {"Depth":-5,"Slope":0.018,"Silt":34,"Sand":38,"Gravel":28},
      {"Depth":-155,"Slope":0.031,"Silt":34,"Sand":44,"Gravel":22},
      {"Depth":-50,"Slope":0.009,"Silt":34,"Sand":50,"Gravel":16},
      {"Depth":-105,"Slope":0.024,"Silt":34,"Sand":56,"Gravel":10},
      {"Depth":-35,"Slope":0.040,"Silt":34,"Sand":62,"Gravel":4},
      {"Depth":-190,"Slope":0.013,"Silt":34,"Sand":66,"Gravel":0},
      {"Depth":-70,"Slope":0.002,"Silt":38,"Sand":31,"Gravel":31},
      {"Depth":-15,"Slope":0.028,"Silt":38,"Sand":37,"Gravel":25},
      {"Depth":-135,"Slope":0.016,"Silt":38,"Sand":43,"Gravel":19},
      {"Depth":-55,"Slope":0.036,"Silt":38,"Sand":49,"Gravel":13},
      {"Depth":-100,"Slope":0.007,"Silt":38,"Sand":55,"Gravel":7},
      {"Depth":-25,"Slope":0.021,"Silt":38,"Sand":62,"Gravel":0},
      {"Depth":-160,"Slope":0.030,"Silt":42,"Sand":30,"Gravel":28},
      {"Depth":-80,"Slope":0.011,"Silt":42,"Sand":36,"Gravel":22},
      {"Depth":-40,"Slope":0.026,"Silt":42,"Sand":42,"Gravel":16},
      {"Depth":-120,"Slope":0.003,"Silt":42,"Sand":48,"Gravel":10},
      {"Depth":-65,"Slope":0.033,"Silt":42,"Sand":58,"Gravel":0},
      {"Depth":-210,"Slope":0.019,"Silt":47,"Sand":29,"Gravel":24},
      {"Depth":-95,"Slope":0.008,"Silt":47,"Sand":35,"Gravel":18},
      {"Depth":-30,"Slope":0.004,"Silt":47,"Sand":41,"Gravel":12},
      {"Depth":-140,"Slope":0.018,"Silt":47,"Sand":47,"Gravel":6},
      {"Depth":-60,"Slope":0.031,"Silt":47,"Sand":53,"Gravel":0},
      {"Depth":-10,"Slope":0.009,"Silt":52,"Sand":27,"Gravel":21},
      {"Depth":-115,"Slope":0.024,"Silt":52,"Sand":33,"Gravel":15},
      {"Depth":-75,"Slope":0.035,"Silt":52,"Sand":39,"Gravel":9},
      {"Depth":-170,"Slope":0.013,"Silt":52,"Sand":48,"Gravel":0},
      {"Depth":-45,"Slope":0.002,"Silt":57,"Sand":26,"Gravel":17},
      {"Depth":-20,"Slope":0.028,"Silt":57,"Sand":32,"Gravel":11},
      {"Depth":-125,"Slope":0.016,"Silt":57,"Sand":43,"Gravel":0},
      {"Depth":-85,"Slope":0.030,"Silt":62,"Sand":24,"Gravel":14},
      {"Depth":-5,"Slope":0.007,"Silt":62,"Sand":30,"Gravel":8},
      {"Depth":-155,"Slope":0.021,"Silt":62,"Sand":38,"Gravel":0},
      {"Depth":-50,"Slope":0.025,"Silt":67,"Sand":22,"Gravel":11},
      {"Depth":-105,"Slope":0.011,"Silt":67,"Sand":28,"Gravel":5},
      {"Depth":-35,"Slope":0.026,"Silt":67,"Sand":33,"Gravel":0},
      {"Depth":-190,"Slope":0.003,"Silt":72,"Sand":20,"Gravel":8},
      {"Depth":-70,"Slope":0.028,"Silt":72,"Sand":28,"Gravel":0},
      {"Depth":-15,"Slope":0.016,"Silt":77,"Sand":18,"Gravel":5},
      {"Depth":-135,"Slope":0.025,"Silt":77,"Sand":23,"Gravel":0},
      {"Depth":-55,"Slope":0.007,"Silt":82,"Sand":15,"Gravel":3},
      {"Depth":-100,"Slope":0.021,"Silt":82,"Sand":18,"Gravel":0},
      {"Depth":-25,"Slope":0.022,"Silt":87,"Sand":11,"Gravel":2},
      {"Depth":-160,"Slope":0.013,"Silt":87,"Sand":13,"Gravel":0},
      {"Depth":-80,"Slope":0.002,"Silt":92,"Sand":7,"Gravel":1},
      {"Depth":-40,"Slope":0.018,"Silt":97,"Sand":3,"Gravel":0},
      {"Depth":-60,"Slope":0.012,"Silt":43,"Sand":27,"Gravel":30},
      {"Depth":-115,"Slope":0.027,"Silt":43,"Sand":31,"Gravel":26},
      {"Depth":-25,"Slope":0.004,"Silt":43,"Sand":35,"Gravel":22},
      {"Depth":-150,"Slope":0.019,"Silt":43,"Sand":39,"Gravel":18},
      {"Depth":-80,"Slope":0.033,"Silt":43,"Sand":43,"Gravel":14},
      {"Depth":-40,"Slope":0.009,"Silt":43,"Sand":47,"Gravel":10},
      {"Depth":-130,"Slope":0.022,"Silt":43,"Sand":51,"Gravel":6},
      {"Depth":-10,"Slope":0.015,"Silt":43,"Sand":55,"Gravel":2},
      {"Depth":-95,"Slope":0.038,"Silt":43,"Sand":57,"Gravel":0},
      {"Depth":-70,"Slope":0.021,"Silt":49,"Sand":25,"Gravel":26},
      {"Depth":-20,"Slope":0.006,"Silt":49,"Sand":29,"Gravel":22},
      {"Depth":-145,"Slope":0.030,"Silt":49,"Sand":33,"Gravel":18},
      {"Depth":-50,"Slope":0.013,"Silt":49,"Sand":37,"Gravel":14},
      {"Depth":-105,"Slope":0.002,"Silt":49,"Sand":41,"Gravel":10},
      {"Depth":-30,"Slope":0.026,"Silt":49,"Sand":45,"Gravel":6},
      {"Depth":-175,"Slope":0.017,"Silt":49,"Sand":49,"Gravel":2},
      {"Depth":-65,"Slope":0.034,"Silt":49,"Sand":51,"Gravel":0},
      {"Depth":-15,"Slope":0.011,"Silt":54,"Sand":24,"Gravel":22},
      {"Depth":-120,"Slope":0.028,"Silt":54,"Sand":28,"Gravel":18},
      {"Depth":-55,"Slope":0.005,"Silt":54,"Sand":32,"Gravel":14},
      {"Depth":-90,"Slope":0.020,"Silt":54,"Sand":36,"Gravel":10},
      {"Depth":-35,"Slope":0.031,"Silt":54,"Sand":40,"Gravel":6},
      {"Depth":-160,"Slope":0.014,"Silt":54,"Sand":44,"Gravel":2},
      {"Depth":-75,"Slope":0.003,"Silt":54,"Sand":46,"Gravel":0},
      {"Depth":-45,"Slope":0.024,"Silt":59,"Sand":22,"Gravel":19},
      {"Depth":-135,"Slope":0.010,"Silt":59,"Sand":26,"Gravel":15},
      {"Depth":-5,"Slope":0.029,"Silt":59,"Sand":30,"Gravel":11},
      {"Depth":-100,"Slope":0.016,"Silt":59,"Sand":34,"Gravel":7},
      {"Depth":-60,"Slope":0.004,"Silt":59,"Sand":38,"Gravel":3},
      {"Depth":-185,"Slope":0.022,"Silt":59,"Sand":41,"Gravel":0},
      {"Depth":-85,"Slope":0.013,"Silt":64,"Sand":20,"Gravel":16},
      {"Depth":-25,"Slope":0.027,"Silt":64,"Sand":24,"Gravel":12},
      {"Depth":-140,"Slope":0.007,"Silt":64,"Sand":28,"Gravel":8},
      {"Depth":-50,"Slope":0.018,"Silt":64,"Sand":32,"Gravel":4},
      {"Depth":-110,"Slope":0.003,"Silt":64,"Sand":36,"Gravel":0},
      {"Depth":-35,"Slope":0.020,"Silt":69,"Sand":18,"Gravel":13},
      {"Depth":-165,"Slope":0.009,"Silt":69,"Sand":22,"Gravel":9},
      {"Depth":-70,"Slope":0.025,"Silt":69,"Sand":26,"Gravel":5},
      {"Depth":-15,"Slope":0.012,"Silt":69,"Sand":31,"Gravel":0},
      {"Depth":-125,"Slope":0.016,"Silt":74,"Sand":16,"Gravel":10},
      {"Depth":-55,"Slope":0.004,"Silt":74,"Sand":20,"Gravel":6},
      {"Depth":-95,"Slope":0.021,"Silt":74,"Sand":26,"Gravel":0},
      {"Depth":-30,"Slope":0.010,"Silt":79,"Sand":13,"Gravel":8},
      {"Depth":-150,"Slope":0.018,"Silt":79,"Sand":17,"Gravel":4},
      {"Depth":-65,"Slope":0.006,"Silt":79,"Sand":21,"Gravel":0},
      {"Depth":-105,"Slope":0.014,"Silt":84,"Sand":11,"Gravel":5},
      {"Depth":-20,"Slope":0.003,"Silt":84,"Sand":14,"Gravel":2},
      {"Depth":-80,"Slope":0.017,"Silt":84,"Sand":16,"Gravel":0},
      {"Depth":-45,"Slope":0.008,"Silt":89,"Sand":8,"Gravel":3},
      {"Depth":-130,"Slope":0.012,"Silt":89,"Sand":11,"Gravel":0},
      {"Depth":-60,"Slope":0.005,"Silt":94,"Sand":5,"Gravel":1},
      {"Depth":-35,"Slope":0.062,"Silt":8,"Sand":70,"Gravel":22},
      {"Depth":-90,"Slope":0.071,"Silt":12,"Sand":62,"Gravel":26},
      {"Depth":-55,"Slope":0.085,"Silt":15,"Sand":55,"Gravel":30},
      {"Depth":-120,"Slope":0.058,"Silt":18,"Sand":72,"Gravel":10},
      {"Depth":-20,"Slope":0.094,"Silt":10,"Sand":76,"Gravel":14},
      {"Depth":-75,"Slope":0.066,"Silt":22,"Sand":58,"Gravel":20},
      {"Depth":-140,"Slope":0.078,"Silt":25,"Sand":65,"Gravel":10},
      {"Depth":-45,"Slope":0.104,"Silt":14,"Sand":68,"Gravel":18},
      {"Depth":-100,"Slope":0.088,"Silt":30,"Sand":55,"Gravel":15},
      {"Depth":-65,"Slope":0.055,"Silt":35,"Sand":50,"Gravel":15},
      {"Depth":-30,"Slope":0.112,"Silt":8,"Sand":62,"Gravel":30},
      {"Depth":-85,"Slope":0.097,"Silt":20,"Sand":45,"Gravel":35},
      {"Depth":-125,"Slope":0.069,"Silt":28,"Sand":47,"Gravel":25},
      {"Depth":-50,"Slope":0.081,"Silt":40,"Sand":42,"Gravel":18},
      {"Depth":-10,"Slope":0.059,"Silt":45,"Sand":40,"Gravel":15},
      {"Depth":-110,"Slope":0.091,"Silt":6,"Sand":80,"Gravel":14},
      {"Depth":-60,"Slope":0.074,"Silt":16,"Sand":78,"Gravel":6},
      {"Depth":-25,"Slope":0.120,"Silt":18,"Sand":62,"Gravel":20},
      {"Depth":-95,"Slope":0.064,"Silt":24,"Sand":52,"Gravel":24},
      {"Depth":-150,"Slope":0.083,"Silt":32,"Sand":60,"Gravel":8},
      {"Depth":-40,"Slope":0.099,"Silt":26,"Sand":70,"Gravel":4},
      {"Depth":-80,"Slope":0.057,"Silt":38,"Sand":38,"Gravel":24},
      {"Depth":-130,"Slope":0.107,"Silt":12,"Sand":80,"Gravel":8},
      {"Depth":-15,"Slope":0.072,"Silt":20,"Sand":68,"Gravel":12},
      {"Depth":-70,"Slope":0.118,"Silt":22,"Sand":72,"Gravel":6},
      {"Depth":-105,"Slope":0.053,"Silt":42,"Sand":46,"Gravel":12},
      {"Depth":-50,"Slope":0.089,"Silt":10,"Sand":58,"Gravel":32},
      {"Depth":-160,"Slope":0.061,"Silt":14,"Sand":74,"Gravel":12},
      {"Depth":-35,"Slope":0.077,"Silt":30,"Sand":62,"Gravel":8},
      {"Depth":-90,"Slope":0.126,"Silt":16,"Sand":70,"Gravel":14},
      {"Depth":-60,"Slope":0.068,"Silt":48,"Sand":40,"Gravel":12},
      {"Depth":-115,"Slope":0.095,"Silt":8,"Sand":72,"Gravel":20},
      {"Depth":-20,"Slope":0.084,"Silt":34,"Sand":52,"Gravel":14},
      {"Depth":-75,"Slope":0.110,"Silt":28,"Sand":58,"Gravel":14},
      {"Depth":-45,"Slope":0.063,"Silt":52,"Sand":38,"Gravel":10},
      {"Depth":-135,"Slope":0.075,"Silt":6,"Sand":66,"Gravel":28},
      {"Depth":-30,"Slope":0.102,"Silt":36,"Sand":56,"Gravel":8},
      {"Depth":-85,"Slope":0.080,"Silt":18,"Sand":50,"Gravel":32},
      {"Depth":-55,"Slope":0.092,"Silt":4,"Sand":84,"Gravel":12},
      {"Depth":-100,"Slope":0.070,"Silt":26,"Sand":44,"Gravel":30},
      {"Depth":-70,"Slope":0.018,"Silt":9,"Sand":11,"Gravel":80},
      {"Depth":-55,"Slope":0.030,"Silt":13,"Sand":13,"Gravel":74},
      {"Depth":-95,"Slope":0.042,"Silt":17,"Sand":19,"Gravel":64},
      {"Depth":-40,"Slope":0.025,"Silt":33,"Sand":21,"Gravel":46},
      {"Depth":-120,"Slope":0.035,"Silt":40,"Sand":16,"Gravel":44},
      {"Depth":-85,"Slope":0.015,"Silt":46,"Sand":19,"Gravel":35},
      {"Depth":-65,"Slope":0.022,"Silt":55,"Sand":15,"Gravel":30},
      {"Depth":-30,"Slope":0.028,"Silt":60,"Sand":18,"Gravel":22},
      {"Depth":-100,"Slope":0.012,"Silt":71,"Sand":15,"Gravel":14},
      {"Depth":-50,"Slope":0.020,"Silt":82,"Sand":5,"Gravel":13},
      {"Depth":-60,"Slope":0.154,"Silt":1,"Sand":98,"Gravel":1},
      {"Depth":-45,"Slope":0.105,"Silt":3,"Sand":95,"Gravel":2},
      {"Depth":-55,"Slope":0.118,"Silt":5,"Sand":92,"Gravel":3},
      {"Depth":-70,"Slope":0.100,"Silt":2,"Sand":93,"Gravel":5},
      {"Depth":-85,"Slope":0.124,"Silt":13,"Sand":84,"Gravel":3},
      {"Depth":-95,"Slope":0.112,"Silt":17,"Sand":79,"Gravel":4},
      {"Depth":-100,"Slope":0.157,"Silt":17,"Sand":81,"Gravel":2},
      {"Depth":-110,"Slope":0.176,"Silt":14,"Sand":81,"Gravel":5},
      {"Depth":-40,"Slope":0.146,"Silt":22,"Sand":75,"Gravel":3},
      {"Depth":-50,"Slope":0.163,"Silt":25,"Sand":72,"Gravel":3},
      {"Depth":-30,"Slope":0.150,"Silt":28,"Sand":68,"Gravel":4},
      {"Depth":-65,"Slope":0.173,"Silt":30,"Sand":67,"Gravel":3},
      {"Depth":-75,"Slope":0.138,"Silt":34,"Sand":63,"Gravel":3},
      {"Depth":-90,"Slope":0.128,"Silt":36,"Sand":60,"Gravel":4},
      {"Depth":-35,"Slope":0.131,"Silt":51,"Sand":30,"Gravel":19},
      {"Depth":-80,"Slope":0.147,"Silt":45,"Sand":34,"Gravel":21},
      {"Depth":-20,"Slope":0.100,"Silt":60,"Sand":28,"Gravel":12},
      {"Depth":-115,"Slope":0.112,"Silt":85,"Sand":11,"Gravel":4},
      {"Depth":-25,"Slope":0.076,"Silt":93,"Sand":5,"Gravel":2},
      {"Depth":-105,"Slope":0.128,"Silt":80,"Sand":16,"Gravel":4},
      {"Depth":-50,"Slope":0.118,"Silt":79,"Sand":14,"Gravel":7},
      {"Depth":-40,"Slope":0.086,"Silt":97,"Sand":2,"Gravel":1},
      {"Depth":-10,"Slope":0.103,"Silt":92,"Sand":6,"Gravel":2},
      {"Depth":-120,"Slope":0.149,"Silt":63,"Sand":34,"Gravel":3},
      {"Depth":-140,"Slope":0.177,"Silt":52,"Sand":44,"Gravel":4},
      {"Depth":-90,"Slope":0.100,"Silt":60,"Sand":30,"Gravel":10},
      {"Depth":-45,"Slope":0.170,"Silt":25,"Sand":65,"Gravel":10},
      {"Depth":-100,"Slope":0.157,"Silt":37,"Sand":55,"Gravel":8},
      {"Depth":-60,"Slope":0.141,"Silt":34,"Sand":58,"Gravel":8},
      {"Depth":-70,"Slope":0.144,"Silt":25,"Sand":62,"Gravel":13},
      {"Depth":-85,"Slope":0.160,"Silt":28,"Sand":60,"Gravel":12},
      {"Depth":-60,"Slope":0.150,"Silt":5,"Sand":88,"Gravel":7},
      {"Depth":-95,"Slope":0.165,"Silt":7,"Sand":86,"Gravel":7},
      {"Depth":-75,"Slope":0.190,"Silt":9,"Sand":83,"Gravel":8},
      {"Depth":-50,"Slope":0.100,"Silt":5,"Sand":10,"Gravel":85},
      {"Depth":-60,"Slope":0.067,"Silt":8,"Sand":30,"Gravel":62},
      {"Depth":-40,"Slope":0.115,"Silt":10,"Sand":54,"Gravel":36},
      {"Depth":-30,"Slope":0.125,"Silt":12,"Sand":69,"Gravel":19},
      {"Depth":-55,"Slope":0.108,"Silt":20,"Sand":56,"Gravel":24},
      {"Depth":-45,"Slope":0.135,"Silt":18,"Sand":70,"Gravel":12},
      {"Depth":-100,"Slope":0.186,"Silt":15,"Sand":73,"Gravel":12},
      {"Depth":-80,"Slope":0.163,"Silt":12,"Sand":71,"Gravel":17},
      {"Depth":-120,"Slope":0.220,"Silt":18,"Sand":68,"Gravel":14},
      {"Depth":-35,"Slope":0.205,"Silt":22,"Sand":66,"Gravel":12},
      {"Depth":-65,"Slope":0.120,"Silt":2,"Sand":80,"Gravel":18},
      {"Depth":-30,"Slope":0.108,"Silt":71,"Sand":22,"Gravel":7},
      {"Depth":-70,"Slope":0.105,"Silt":64,"Sand":30,"Gravel":6}
    ]
  },
  "config": {
    "view": {"stroke": "black", "strokeWidth": 1.5, "fill": null},
    "axis": {
      "domain": false, "grid": false, "ticks": true,
      "tickColor": "black", "tickWidth": 1.3, "tickSize": 12,
      "labelFont": "Liberation Sans", "labelFontSize": 20, "labelColor": "black",
      "labelOverlap": false, "labelFlush": false, "labelBound": false
    },
    "point": {"shape": "circle", "filled": false, "size": 90, "strokeWidth": 1.9, "color": "black", "opacity": 1},
    "text": {"font": "Liberation Sans", "color": "black", "baseline": "middle", "align": "center"}
  },
  "concat": [
    {"width": 179, "height": 122, "data": {"values": [{"variable": "Depth"}]},
     "mark": {"type": "text", "fontSize": 40},
     "encoding": {"text": {"field": "variable"},
       "x": {"datum": 0.5, "type": "quantitative", "scale": {"domain": [0, 1]}, "axis": null},
       "y": {"datum": 0.5, "type": "quantitative", "scale": {"domain": [0, 1]}, "axis": null}}},
    {"width": 179, "height": 122, "data": {"name": "cors"}, "transform": [{"filter": "datum.pair === 'Depth~Slope'"}],
     "mark": "text",
     "encoding": {
       "text": {"field": "r", "type": "quantitative", "format": ".2f"},
       "size": {"field": "r", "type": "quantitative", "scale": {"domain": [0, 1], "range": [0, 72]}, "legend": null},
       "x": {"datum": 0.1605, "type": "quantitative", "scale": {"domain": [-0.0128, 0.3338], "nice": false, "zero": false},
             "axis": {"orient": "top", "title": null, "values": [0, 0.05, 0.1, 0.15, 0.2, 0.25, 0.3],
                      "labelExpr": "datum.value == 0 ? '0.00' : abs(datum.value - 0.15) < 0.001 ? '0.15' : abs(datum.value - 0.3) < 0.001 ? '0.30' : ''",
                      "labelAlign": "center", "labelBaseline": "alphabetic", "labelPadding": 19}},
       "y": {"datum": 0.5, "type": "quantitative", "scale": {"domain": [0, 1]}, "axis": null}
     }},
    {"width": 179, "height": 122, "data": {"name": "cors"}, "transform": [{"filter": "datum.pair === 'Depth~Silt'"}],
     "mark": "text",
     "encoding": {
       "text": {"field": "r", "type": "quantitative", "format": ".2f"},
       "size": {"field": "r", "type": "quantitative", "scale": {"domain": [0, 1], "range": [0, 72]}, "legend": null},
       "x": {"datum": 0.5, "type": "quantitative", "scale": {"domain": [0, 1]}, "axis": null},
       "y": {"datum": 0.5, "type": "quantitative", "scale": {"domain": [0, 1]}, "axis": null}
     }},
    {"width": 179, "height": 122, "data": {"name": "cors"}, "transform": [{"filter": "datum.pair === 'Depth~Sand'"}],
     "mark": "text",
     "encoding": {
       "text": {"field": "r", "type": "quantitative", "format": ".2f"},
       "size": {"field": "r", "type": "quantitative", "scale": {"domain": [0, 1], "range": [0, 72]}, "legend": null},
       "x": {"datum": 50, "type": "quantitative", "scale": {"domain": [-4, 104], "nice": false, "zero": false},
             "axis": {"orient": "top", "title": null, "values": [0, 20, 40, 60, 80, 100],
                      "labelExpr": "datum.value == 0 ? '0' : datum.value == 40 ? '40' : datum.value == 80 ? '80' : ''",
                      "labelAlign": "center", "labelBaseline": "alphabetic", "labelPadding": 19}},
       "y": {"datum": 0.5, "type": "quantitative", "scale": {"domain": [0, 1]}, "axis": null}
     }},
    {"width": 179, "height": 122, "data": {"name": "cors"}, "transform": [{"filter": "datum.pair === 'Depth~Gravel'"}],
     "mark": "text",
     "encoding": {
       "text": {"field": "r", "type": "quantitative", "format": ".2f"},
       "size": {"field": "r", "type": "quantitative", "scale": {"domain": [0, 1], "range": [0, 72]}, "legend": null},
       "x": {"datum": 0.5, "type": "quantitative", "scale": {"domain": [0, 1]}, "axis": null},
       "y": {"datum": -686, "type": "quantitative", "scale": {"domain": [-1548, 176], "nice": false, "zero": false},
             "axis": {"orient": "right", "title": null, "values": [-1500, -1000, -500, 0],
                      "labelExpr": "datum.value == -1500 ? '-1500' : datum.value == -500 ? '-500' : ''",
                      "labelAngle": 270, "labelAlign": "center", "labelBaseline": "top", "labelPadding": 11}}
     }},

    {"width": 179, "height": 122, "data": {"name": "samples"}, "mark": {"type": "point", "clip": true},
     "encoding": {
       "x": {"field": "Depth", "type": "quantitative", "scale": {"domain": [-1548, 176], "nice": false, "zero": false}, "axis": null},
       "y": {"field": "Slope", "type": "quantitative", "scale": {"domain": [-0.0128, 0.3338], "nice": false, "zero": false},
             "axis": {"orient": "left", "title": null, "values": [0, 0.05, 0.1, 0.15, 0.2, 0.25, 0.3],
                      "labelExpr": "datum.value == 0 ? '0.00' : abs(datum.value - 0.2) < 0.001 ? '0.20' : ''",
                      "labelAngle": 270, "labelAlign": "center", "labelBaseline": "alphabetic", "labelPadding": 20}}
     }},
    {"width": 179, "height": 122, "data": {"values": [{"variable": "Slope"}]},
     "mark": {"type": "text", "fontSize": 40},
     "encoding": {"text": {"field": "variable"},
       "x": {"datum": 0.5, "type": "quantitative", "scale": {"domain": [0, 1]}, "axis": null},
       "y": {"datum": 0.5, "type": "quantitative", "scale": {"domain": [0, 1]}, "axis": null}}},
    {"width": 179, "height": 122, "data": {"name": "cors"}, "transform": [{"filter": "datum.pair === 'Slope~Silt'"}],
     "mark": "text",
     "encoding": {
       "text": {"field": "r", "type": "quantitative", "format": ".2f"},
       "size": {"field": "r", "type": "quantitative", "scale": {"domain": [0, 1], "range": [0, 72]}, "legend": null},
       "x": {"datum": 0.5, "type": "quantitative", "scale": {"domain": [0, 1]}, "axis": null},
       "y": {"datum": 0.5, "type": "quantitative", "scale": {"domain": [0, 1]}, "axis": null}
     }},
    {"width": 179, "height": 122, "data": {"name": "cors"}, "transform": [{"filter": "datum.pair === 'Slope~Sand'"}],
     "mark": "text",
     "encoding": {
       "text": {"field": "r", "type": "quantitative", "format": ".2f"},
       "size": {"field": "r", "type": "quantitative", "scale": {"domain": [0, 1], "range": [0, 72]}, "legend": null},
       "x": {"datum": 0.5, "type": "quantitative", "scale": {"domain": [0, 1]}, "axis": null},
       "y": {"datum": 0.5, "type": "quantitative", "scale": {"domain": [0, 1]}, "axis": null}
     }},
    {"width": 179, "height": 122, "data": {"name": "cors"}, "transform": [{"filter": "datum.pair === 'Slope~Gravel'"}],
     "mark": "text",
     "encoding": {
       "text": {"field": "r", "type": "quantitative", "format": ".2f"},
       "size": {"field": "r", "type": "quantitative", "scale": {"domain": [0, 1], "range": [0, 72]}, "legend": null},
       "x": {"datum": 0.5, "type": "quantitative", "scale": {"domain": [0, 1]}, "axis": null},
       "y": {"datum": 0.5, "type": "quantitative", "scale": {"domain": [0, 1]}, "axis": null}
     }},

    {"width": 179, "height": 122, "data": {"name": "samples"}, "mark": {"type": "point", "clip": true},
     "encoding": {
       "x": {"field": "Depth", "type": "quantitative", "scale": {"domain": [-1548, 176], "nice": false, "zero": false}, "axis": null},
       "y": {"field": "Silt", "type": "quantitative", "scale": {"domain": [-4, 104], "nice": false, "zero": false}, "axis": null}
     }},
    {"width": 179, "height": 122, "data": {"name": "samples"}, "mark": {"type": "point", "clip": true},
     "encoding": {
       "x": {"field": "Slope", "type": "quantitative", "scale": {"domain": [-0.0128, 0.3338], "nice": false, "zero": false}, "axis": null},
       "y": {"field": "Silt", "type": "quantitative", "scale": {"domain": [-4, 104], "nice": false, "zero": false}, "axis": null}
     }},
    {"width": 179, "height": 122, "data": {"values": [{"variable": "Silt"}]},
     "mark": {"type": "text", "fontSize": 40},
     "encoding": {"text": {"field": "variable"},
       "x": {"datum": 0.5, "type": "quantitative", "scale": {"domain": [0, 1]}, "axis": null},
       "y": {"datum": 0.5, "type": "quantitative", "scale": {"domain": [0, 1]}, "axis": null}}},
    {"width": 179, "height": 122, "data": {"name": "cors"}, "transform": [{"filter": "datum.pair === 'Silt~Sand'"}],
     "mark": "text",
     "encoding": {
       "text": {"field": "r", "type": "quantitative", "format": ".2f"},
       "size": {"field": "r", "type": "quantitative", "scale": {"domain": [0, 1], "range": [0, 72]}, "legend": null},
       "x": {"datum": 0.5, "type": "quantitative", "scale": {"domain": [0, 1]}, "axis": null},
       "y": {"datum": 0.5, "type": "quantitative", "scale": {"domain": [0, 1]}, "axis": null}
     }},
    {"width": 179, "height": 122, "data": {"name": "cors"}, "transform": [{"filter": "datum.pair === 'Silt~Gravel'"}],
     "mark": "text",
     "encoding": {
       "text": {"field": "r", "type": "quantitative", "format": ".2f"},
       "size": {"field": "r", "type": "quantitative", "scale": {"domain": [0, 1], "range": [0, 72]}, "legend": null},
       "x": {"datum": 0.5, "type": "quantitative", "scale": {"domain": [0, 1]}, "axis": null},
       "y": {"datum": 50, "type": "quantitative", "scale": {"domain": [-4, 104], "nice": false, "zero": false},
             "axis": {"orient": "right", "title": null, "values": [0, 20, 40, 60, 80, 100],
                      "labelExpr": "datum.value == 0 ? '0' : datum.value == 40 ? '40' : datum.value == 80 ? '80' : ''",
                      "labelAngle": 270, "labelAlign": "center", "labelBaseline": "top", "labelPadding": 11}}
     }},

    {"width": 179, "height": 122, "data": {"name": "samples"}, "mark": {"type": "point", "clip": true},
     "encoding": {
       "x": {"field": "Depth", "type": "quantitative", "scale": {"domain": [-1548, 176], "nice": false, "zero": false}, "axis": null},
       "y": {"field": "Sand", "type": "quantitative", "scale": {"domain": [-4, 104], "nice": false, "zero": false},
             "axis": {"orient": "left", "title": null, "values": [0, 20, 40, 60, 80, 100],
                      "labelExpr": "datum.value == 0 ? '0' : datum.value == 40 ? '40' : datum.value == 80 ? '80' : ''",
                      "labelAngle": 270, "labelAlign": "center", "labelBaseline": "alphabetic", "labelPadding": 20}}
     }},
    {"width": 179, "height": 122, "data": {"name": "samples"}, "mark": {"type": "point", "clip": true},
     "encoding": {
       "x": {"field": "Slope", "type": "quantitative", "scale": {"domain": [-0.0128, 0.3338], "nice": false, "zero": false}, "axis": null},
       "y": {"field": "Sand", "type": "quantitative", "scale": {"domain": [-4, 104], "nice": false, "zero": false}, "axis": null}
     }},
    {"width": 179, "height": 122, "data": {"name": "samples"}, "mark": {"type": "point", "clip": true},
     "encoding": {
       "x": {"field": "Silt", "type": "quantitative", "scale": {"domain": [-4, 104], "nice": false, "zero": false}, "axis": null},
       "y": {"field": "Sand", "type": "quantitative", "scale": {"domain": [-4, 104], "nice": false, "zero": false}, "axis": null}
     }},
    {"width": 179, "height": 122, "data": {"values": [{"variable": "Sand"}]},
     "mark": {"type": "text", "fontSize": 40},
     "encoding": {"text": {"field": "variable"},
       "x": {"datum": 0.5, "type": "quantitative", "scale": {"domain": [0, 1]}, "axis": null},
       "y": {"datum": 0.5, "type": "quantitative", "scale": {"domain": [0, 1]}, "axis": null}}},
    {"width": 179, "height": 122, "data": {"name": "cors"}, "transform": [{"filter": "datum.pair === 'Sand~Gravel'"}],
     "mark": "text",
     "encoding": {
       "text": {"field": "r", "type": "quantitative", "format": ".2f"},
       "size": {"field": "r", "type": "quantitative", "scale": {"domain": [0, 1], "range": [0, 72]}, "legend": null},
       "x": {"datum": 0.5, "type": "quantitative", "scale": {"domain": [0, 1]}, "axis": null},
       "y": {"datum": 0.5, "type": "quantitative", "scale": {"domain": [0, 1]}, "axis": null}
     }},

    {"width": 179, "height": 122, "data": {"name": "samples"}, "mark": {"type": "point", "clip": true},
     "encoding": {
       "x": {"field": "Depth", "type": "quantitative", "scale": {"domain": [-1548, 176], "nice": false, "zero": false},
             "axis": {"orient": "bottom", "title": null, "values": [-1500, -1000, -500, 0],
                      "labelExpr": "datum.value == -1500 ? '-1500' : datum.value == -500 ? '-500' : datum.value == 0 ? '0' : ''",
                      "labelAlign": "center", "labelBaseline": "top", "labelPadding": 13}},
       "y": {"field": "Gravel", "type": "quantitative", "scale": {"domain": [-4, 104], "nice": false, "zero": false}, "axis": null}
     }},
    {"width": 179, "height": 122, "data": {"name": "samples"}, "mark": {"type": "point", "clip": true},
     "encoding": {
       "x": {"field": "Slope", "type": "quantitative", "scale": {"domain": [-0.0128, 0.3338], "nice": false, "zero": false}, "axis": null},
       "y": {"field": "Gravel", "type": "quantitative", "scale": {"domain": [-4, 104], "nice": false, "zero": false}, "axis": null}
     }},
    {"width": 179, "height": 122, "data": {"name": "samples"}, "mark": {"type": "point", "clip": true},
     "encoding": {
       "x": {"field": "Silt", "type": "quantitative", "scale": {"domain": [-4, 104], "nice": false, "zero": false},
             "axis": {"orient": "bottom", "title": null, "values": [0, 20, 40, 60, 80, 100],
                      "labelExpr": "datum.value == 0 ? '0' : datum.value == 40 ? '40' : datum.value == 80 ? '80' : ''",
                      "labelAlign": "center", "labelBaseline": "top", "labelPadding": 13}},
       "y": {"field": "Gravel", "type": "quantitative", "scale": {"domain": [-4, 104], "nice": false, "zero": false}, "axis": null}
     }},
    {"width": 179, "height": 122, "data": {"name": "samples"}, "mark": {"type": "point", "clip": true},
     "encoding": {
       "x": {"field": "Sand", "type": "quantitative", "scale": {"domain": [-4, 104], "nice": false, "zero": false}, "axis": null},
       "y": {"field": "Gravel", "type": "quantitative", "scale": {"domain": [-4, 104], "nice": false, "zero": false}, "axis": null}
     }},
    {"width": 179, "height": 122, "data": {"values": [{"variable": "Gravel"}]},
     "mark": {"type": "text", "fontSize": 40},
     "encoding": {
       "text": {"field": "variable"},
       "x": {"datum": 50, "type": "quantitative", "scale": {"domain": [-4, 104], "nice": false, "zero": false},
             "axis": {"orient": "bottom", "title": null, "values": [0, 20, 40, 60, 80, 100],
                      "labelExpr": "datum.value == 0 ? '0' : datum.value == 40 ? '40' : datum.value == 80 ? '80' : ''",
                      "labelAlign": "center", "labelBaseline": "top", "labelPadding": 13}},
       "y": {"datum": 50, "type": "quantitative", "scale": {"domain": [-4, 104], "nice": false, "zero": false},
             "axis": {"orient": "right", "title": null, "values": [0, 20, 40, 60, 80, 100],
                      "labelExpr": "datum.value == 0 ? '0' : datum.value == 40 ? '40' : datum.value == 80 ? '80' : ''",
                      "labelAngle": 270, "labelAlign": "center", "labelBaseline": "top", "labelPadding": 11}}
     }}
  ]
}
